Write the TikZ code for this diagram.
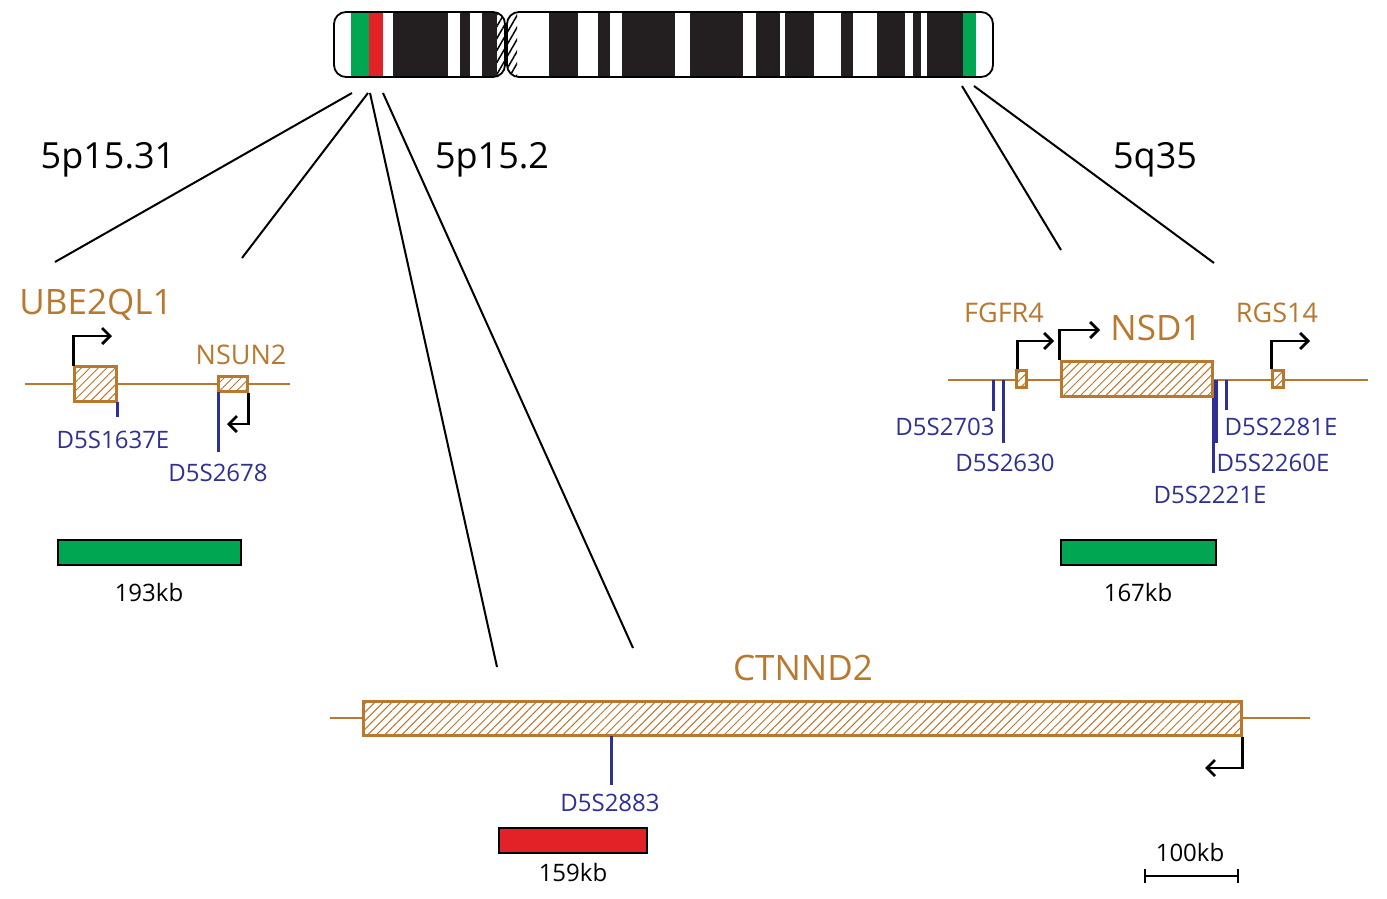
\documentclass[tikz,border=0pt]{standalone}
\usepackage{fontspec}
\setmainfont{Open Sans}
\usetikzlibrary{patterns.meta,arrows.meta}
\definecolor{gold}{HTML}{B8782E}
\definecolor{mblue}{HTML}{2E3192}
\definecolor{mgreen}{HTML}{00A651}
\definecolor{mred}{HTML}{E32228}
\definecolor{band}{HTML}{231F20}
\begin{document}
\begin{tikzpicture}[x=1pt,y=-1pt,
  gl/.style={draw=gold,line width=2.5pt},
  exon/.style={draw=gold,line width=3pt,preaction={fill=white},pattern={Lines[angle=45,distance=6pt,line width=1pt]},pattern color=gold},
  tss/.style={draw=black,line width=2.8pt,-{Straight Barb[length=8pt,width=16pt,line width=2.8pt]}},
  mk/.style={draw=mblue,line width=3pt},
  big/.style={font=\fontsize{36}{36}\selectfont},
  gname/.style={text=gold,font=\fontsize{35}{35}\selectfont},
  sname/.style={text=gold,font=\fontsize{27}{27}\selectfont},
  ml/.style={text=mblue,font=\fontsize{24}{24}\selectfont},
  kb/.style={font=\fontsize{24}{24}\selectfont},
  zoomline/.style={draw=black,line width=2pt}]
\useasboundingbox (0,0) rectangle (1387,899);
% chromosome
\begin{scope}
\clip[rounded corners=12pt] (334,12) rectangle (505,77);
\fill[white] (334,12) rectangle (505,77);
\fill[mgreen] (351,12) rectangle (369,77);
\fill[mred] (369,12) rectangle (383,77);
\foreach \a/\b in {393/448,460/470,482/497} \fill[band] (\a,12) rectangle (\b,77);
\fill[pattern={Lines[angle=60,distance=6pt,line width=1.5pt]}] (497,12) rectangle (506,77);
\end{scope}
\begin{scope}
\clip[rounded corners=12pt] (507,12) rectangle (993,77);
\fill[white] (507,12) rectangle (993,77);
\fill[pattern={Lines[angle=60,distance=6pt,line width=1.5pt]}] (507,12) rectangle (517,77);
\foreach \a/\b in {549/578,598/610,622/675,690/743,756/780,785/814,841/853,877/905,913/921,927/963} \fill[band] (\a,12) rectangle (\b,77);
\fill[mgreen] (963,12) rectangle (976,77);
\end{scope}
\node[draw,line width=1.8pt,rounded corners=12pt,minimum width=171pt,minimum height=65pt,inner sep=0pt] (parm) at (419.5,44.5) {};
\node[draw,line width=1.8pt,rounded corners=12pt,minimum width=486pt,minimum height=65pt,inner sep=0pt] (qarm) at (750,44.5) {};
% zoom lines
\coordinate (c1) at (352,93); \coordinate (d1) at (55,262);
\coordinate (c2) at (368,93); \coordinate (d2) at (242,258);
\coordinate (c3) at (370,93); \coordinate (d3) at (497,667);
\coordinate (c4) at (383,93); \coordinate (d4) at (633,648);
\coordinate (c5) at (962,86); \coordinate (d5) at (1061,250);
\coordinate (c6) at (974,86); \coordinate (d6) at (1214,263);
\foreach \i in {1,...,6} \draw[zoomline] (c\i) -- (d\i);
\node[big] (l1) at (108,160) {5p15.31};
\node[big] (l2) at (492,160) {5p15.2};
\node[big] (l3) at (1155,160) {5q35};
% left region
\coordinate (la) at (25,384); \coordinate (lb) at (290,384);
\draw[gl] (la) -- (lb);
\node[exon,minimum width=42pt,minimum height=35pt,inner sep=0pt] (ube) at (95,383.5) {};
\node[exon,minimum width=29pt,minimum height=15pt,inner sep=0pt] (nsun) at (232.5,383.5) {};
\coordinate (t1) at (112,336);
\draw[tss] (ube.north west) |- (t1);
\coordinate (t2) at (227,424);
\draw[tss] (nsun.south east) |- (t2);
\coordinate (m1a) at (117,402); \coordinate (m1b) at (117,417);
\draw[mk] (m1a) -- (m1b);
\coordinate (m2a) at (218,392); \coordinate (m2b) at (218,452);
\draw[mk] (m2a) -- (m2b);
\node[gname] (nu) at (96,305) {UBE2QL1};
\node[sname] (nn) at (241,355) {NSUN2};
\node[ml] (n1) at (113,440) {D5S1637E};
\node[ml] (n2) at (218,473) {D5S2678};
\node[draw=black,line width=2pt,fill=mgreen,minimum width=183pt,minimum height=25pt,inner sep=0pt] (bar1) at (149.5,552.5) {};
\node[kb] (k1) at (149,592) {193kb};
% right region
\coordinate (ra) at (948,380); \coordinate (rb) at (1368,380);
\draw[gl] (ra) -- (rb);
\coordinate (r1a) at (993,380); \coordinate (r1b) at (993,411);
\coordinate (r2a) at (1003,380); \coordinate (r2b) at (1003,443);
\coordinate (r3a) at (1213,380); \coordinate (r3b) at (1213,473);
\coordinate (r4a) at (1216,380); \coordinate (r4b) at (1216,443);
\coordinate (r5a) at (1226,380); \coordinate (r5b) at (1226,410);
\foreach \i in {1,2,3,4,5} \draw[mk] (r\i a) -- (r\i b);
\node[exon,minimum width=10pt,minimum height=17pt,inner sep=0pt] (fg) at (1021,379) {};
\node[exon,minimum width=151pt,minimum height=35pt,inner sep=0pt] (nsd) at (1136.5,378.5) {};
\node[exon,minimum width=11pt,minimum height=17pt,inner sep=0pt] (rg) at (1277.5,379) {};
\coordinate (t3) at (1054,341); \coordinate (t4) at (1100,330); \coordinate (t5) at (1310,341);
\draw[tss] (fg.north west) ++(3,0) |- (t3);
\draw[tss] (nsd.north west) |- (t4);
\draw[tss] (rg.north west) ++(1,0) |- (t5);
\node[sname] (nf) at (1004,313) {FGFR4};
\node[gname] (nd) at (1156,328) {NSD1};
\node[sname] (nr) at (1277,313) {RGS14};
\node[ml] (q1) at (945,427) {D5S2703};
\node[ml] (q2) at (1005,463) {D5S2630};
\node[ml] (q3) at (1281,427) {D5S2281E};
\node[ml] (q4) at (1273,463) {D5S2260E};
\node[ml] (q5) at (1210,495) {D5S2221E};
\node[draw=black,line width=2pt,fill=mgreen,minimum width=155pt,minimum height=25pt,inner sep=0pt] (bar2) at (1138.5,552.5) {};
\node[kb] (k2) at (1138,592) {167kb};
% CTNND2
\coordinate (ca) at (330,718); \coordinate (cb) at (1310,718);
\draw[gl] (ca) -- (cb);
\node[exon,minimum width=878pt,minimum height=34pt,inner sep=0pt] (ct) at (802,718) {};
\coordinate (t6) at (1205,768);
\draw[tss] (ct.south east) |- (t6);
\coordinate (m3a) at (611,736); \coordinate (m3b) at (611,785);
\draw[mk] (m3a) -- (m3b);
\node[gname] (nc) at (803,668) {CTNND2};
\node[ml] (n3) at (610,803) {D5S2883};
\node[draw=black,line width=2pt,fill=mred,minimum width=148pt,minimum height=25pt,inner sep=0pt] (bar3) at (573,840.5) {};
\node[kb] (k3) at (573,872) {159kb};
% scale
\coordinate (sa) at (1145,876); \coordinate (sb) at (1238,876);
\draw[line width=2.5pt] (sa) -- (sb);
\draw[line width=2pt] (1145,869) -- (1145,883) (1238,869) -- (1238,883);
\node[kb] (k4) at (1190,852) {100kb};
\end{tikzpicture}
\end{document}
